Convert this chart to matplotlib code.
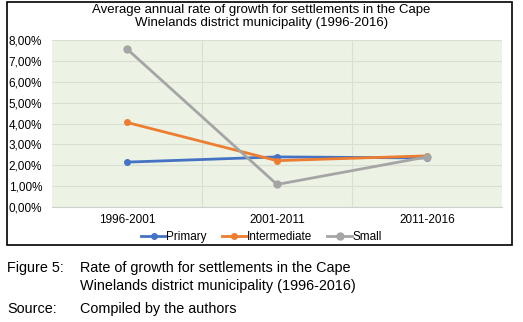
import matplotlib.pyplot as plt
from matplotlib.patches import Rectangle
from matplotlib.ticker import FuncFormatter

# data
periods = ["1996-2001", "2001-2011", "2011-2016"]
primary = [2.15, 2.40, 2.35]
intermediate = [4.05, 2.22, 2.45]
small = [7.57, 1.08, 2.40]

W, H = 523, 322
fig = plt.figure(figsize=(W / 100, H / 100), dpi=100)
plt.rcParams['font.family'] = ['Liberation Sans', 'DejaVu Sans']


def px(x0, y0, x1, y1):
    # pixel box (top-left origin) -> figure fraction
    return [x0 / W, 1 - y1 / H, (x1 - x0) / W, (y1 - y0) / H]


# chart frame
fig.patches.append(Rectangle((7 / W, 1 - 245 / H), 505 / W, 243 / H,
                             transform=fig.transFigure, fill=False,
                             edgecolor="black", linewidth=1.2))

ax = fig.add_axes(px(52, 40, 502, 207))
ax.set_facecolor("#ECF3E4")
x = range(len(periods))
ax.plot(x, primary, color="#4472C4", marker="o", markersize=4, linewidth=2, label="Primary")
ax.plot(x, intermediate, color="#ED7D31", marker="o", markersize=4, linewidth=2, label="Intermediate")
ax.plot(x, small, color="#A5A5A5", marker="o", markersize=5, linewidth=2, label="Small")

ax.set_xlim(-0.5, 2.5)
ax.set_ylim(0, 8)
ax.set_yticks(range(0, 9))
ax.yaxis.set_major_formatter(FuncFormatter(lambda v, p: f"{v:.2f}%".replace(".", ",")))
ax.set_xticks(list(x))
ax.set_xticklabels(periods)
ax.set_xticks([0.5, 1.5], minor=True)
ax.grid(axis="y", color="#D9DFD3", linewidth=0.8)
ax.grid(axis="x", which="minor", color="#D9DFD3", linewidth=0.8)
ax.set_axisbelow(True)
ax.tick_params(axis="both", which="both", length=0, labelsize=8.5)
ax.tick_params(axis="y", pad=7)
ax.tick_params(axis="x", pad=5)
for s in ["top", "right", "left"]:
    ax.spines[s].set_visible(False)
ax.spines["bottom"].set_color("#D0D0D0")

fig.text(0.5, 1 - 10 / H, "Average annual rate of growth for settlements in the Cape",
         ha="center", va="center", fontsize=9.5)
fig.text(0.5, 1 - 23 / H, "Winelands district municipality (1996-2016)",
         ha="center", va="center", fontsize=9.5)

fig.legend(loc="center", bbox_to_anchor=(0.5, 1 - 237 / H), ncol=3, frameon=False,
           fontsize=8.5, handlelength=2.1, handletextpad=0.0, columnspacing=1.3,
           borderaxespad=0)

cap = 10.4
fig.text(7 / W, 1 - 268 / H, "Figure 5:", fontsize=cap, va="center")
fig.text(80 / W, 1 - 268 / H, "Rate of growth for settlements in the Cape", fontsize=cap, va="center")
fig.text(80 / W, 1 - 286 / H, "Winelands district municipality (1996-2016)", fontsize=cap, va="center")
fig.text(7 / W, 1 - 309 / H, "Source:", fontsize=cap, va="center")
fig.text(80 / W, 1 - 309 / H, "Compiled by the authors", fontsize=cap, va="center")

fig.savefig("out.png", dpi=100)
